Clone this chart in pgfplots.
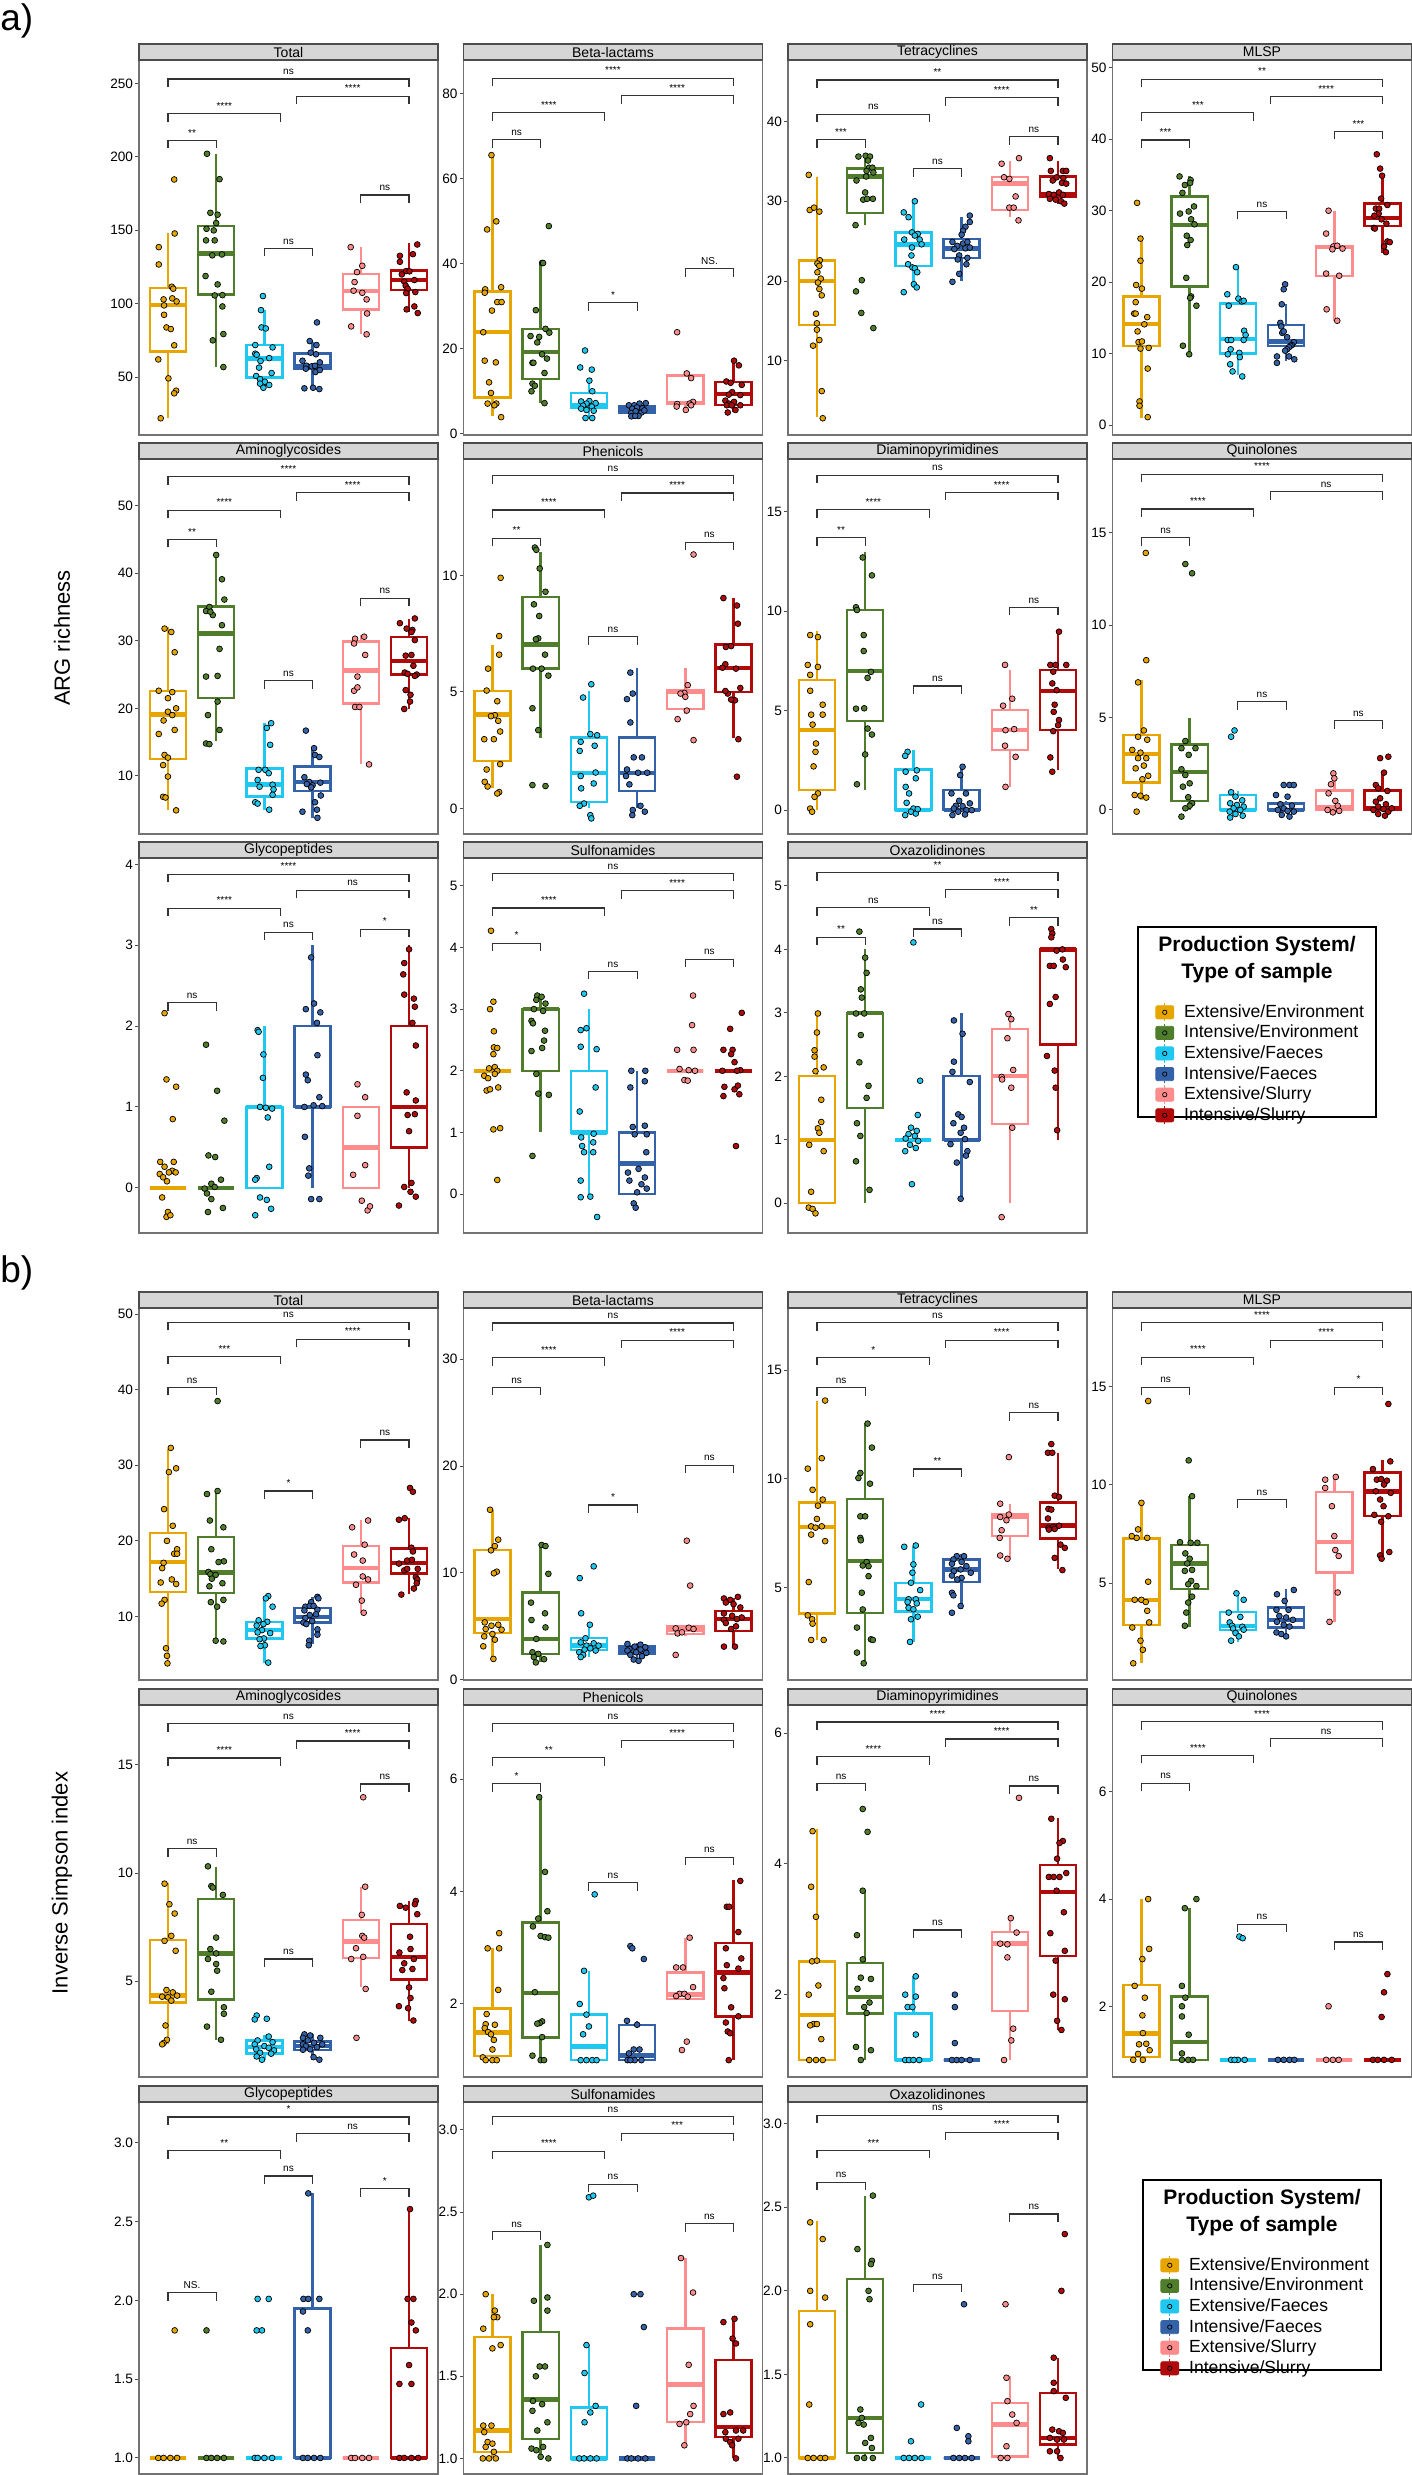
\documentclass[border=0pt]{standalone}
\usepackage{pgfplots}
\pgfplotsset{compat=1.18}
\usepgfplotslibrary{statistics}
\usepackage{fontspec}
\setmainfont{Liberation Sans}
\definecolor{cE}{HTML}{E7A500}
\definecolor{cI}{HTML}{4F7D2C}
\definecolor{cEF}{HTML}{1EC8F0}
\definecolor{cIF}{HTML}{3462A8}
\definecolor{cES}{HTML}{FF8C8C}
\definecolor{cIS}{HTML}{B00A0A}
\pgfplotsset{
 panel/.style={scale only axis, width=149.5pt, xmin=0.4, xmax=6.6, xtick=\empty, ytick pos=left,
  tick align=outside, major tick length=1.8pt, axis line style={draw=black!55, line width=0.8pt},
  every tick/.style={black!70, line width=0.5pt},
  yticklabel style={font=\fontsize{6.8}{7}\selectfont, inner sep=1pt, text=black},
  clip=false, anchor=north west, boxplot/every median/.style={line width=2.2pt}},
 legimg/.style={legend image code/.code={
  \draw[fill=#1, draw=#1, rounded corners=1pt] (0pt,-3.3pt) rectangle (9pt,3.3pt);
  \draw[#1, line width=0.6pt] (4.5pt,3.3pt) -- (4.5pt,4.6pt) (4.5pt,-3.3pt) -- (4.5pt,-4.6pt);
  \draw[black, line width=0.35pt] (4.5pt,0pt) circle (1.1pt);}}
}
\tikzset{brkst/.style={black!80, line width=0.6pt},
 brklbl/.style={anchor=base, yshift=2.2pt, inner sep=0pt, font=\fontsize{5}{5}\selectfont}}
\newcommand\panel[8]{%
\begin{axis}[panel, at={(#1*0.5pt,-#2*0.5pt)}, height=#3, ymin=#5, ymax=#6, ytick={#7}, yticklabels={#7}]
#8
\draw[fill=gray!32, draw=black!70, line width=0.6pt] (rel axis cs:0,1) rectangle ([yshift=8pt]rel axis cs:1,1);
\node[font=\fontsize{7}{8}\selectfont, inner sep=0pt] at ([yshift=4pt]rel axis cs:0.5,1) {#4};
\end{axis}}
\newcommand\bx[7]{\addplot[draw=#1, line width=1.2pt, fill=white, boxplot/draw direction=y, boxplot prepared={draw position=#2, lower whisker=#3, lower quartile=#4, median=#5, upper quartile=#6, upper whisker=#7, box extend=0.75, whisker extend=0}] coordinates {};}
\newcommand\pts[2]{\addplot[only marks, mark=*, mark size=1.45pt, mark options={fill=#1, draw=black, line width=0.35pt, solid}] coordinates {#2};}
\newcommand\brk[5]{\draw[brkst] ([yshift=-4pt]axis cs:#1,#4) -- (axis cs:#1,#4) -- (axis cs:#2,#4) -- ([yshift=-4pt]axis cs:#2,#4); \node[brklbl] at (axis cs:#3,#4) {#5};}
\newcommand\bra[2]{\brk{1}{2}{1.5}{#1}{#2}}
\newcommand\brb[2]{\brk{3}{4}{3.5}{#1}{#2}}
\newcommand\brc[2]{\brk{5}{6}{5.5}{#1}{#2}}
\newcommand\brd[2]{\brk{1}{3.33}{2.17}{#1}{#2}}
\newcommand\bre[2]{\brk{3.67}{6}{4.83}{#1}{#2}}
\newcommand\brf[2]{\brk{1}{6}{3.5}{#1}{#2}}
\newcommand\legendbox[2]{%
\begin{axis}[hide axis, scale only axis, width=119pt, height=95pt, at={(#1*0.5pt,-#2*0.5pt)}, anchor=north west,
 xmin=0, xmax=1, ymin=0, ymax=1, clip=false,
 legend style={at={(0.046,0.626)}, anchor=north west, draw=none, fill=none, font=\fontsize{8.8}{9}\selectfont,
  nodes={inner sep=0pt, text height=7pt, text depth=2pt}, row sep=0.5pt, column sep=5pt}, legend cell align=left]
\addlegendimage{legimg=cE}\addlegendentry{Extensive/Environment}
\addlegendimage{legimg=cI}\addlegendentry{Intensive/Environment}
\addlegendimage{legimg=cEF}\addlegendentry{Extensive/Faeces}
\addlegendimage{legimg=cIF}\addlegendentry{Intensive/Faeces}
\addlegendimage{legimg=cES}\addlegendentry{Extensive/Slurry}
\addlegendimage{legimg=cIS}\addlegendentry{Intensive/Slurry}
\node[font=\bfseries\fontsize{10.5}{12}\selectfont] at (axis cs:0.5,0.9) {Production System/};
\node[font=\bfseries\fontsize{10.5}{12}\selectfont] at (axis cs:0.5,0.758) {Type of sample};
\draw[line width=0.7pt] (rel axis cs:0,0) rectangle (rel axis cs:1,1);
\end{axis}}
\begin{document}
\begin{tikzpicture}
\useasboundingbox (0,0) rectangle (706pt,-1237.5pt);
\node[anchor=north west, inner sep=0pt, font=\fontsize{18.5}{20}\selectfont] at (0pt,-1.5pt) {a)};
\node[anchor=north west, inner sep=0pt, font=\fontsize{18.5}{20}\selectfont] at (0pt,-627.5pt) {b)};
\node[rotate=90, font=\fontsize{11}{13}\selectfont] at (31pt,-319pt) {ARG richness};
\node[rotate=90, font=\fontsize{11}{13}\selectfont] at (31pt,-941.5pt) {Inverse Simpson index};
% ---------------- a) row 1
\panel{139}{60}{187.5pt}{Total}{10.5}{266}{50,100,150,200,250}{
\bx{cE}{1}{22.3}{67.3}{99}{110.8}{147.8}
\bx{cI}{2}{57.0}{106.1}{134.2}{153.1}{201.9}
\bx{cEF}{3}{42.7}{49.6}{62.5}{71.8}{95.6}
\bx{cIF}{4}{42.7}{55.7}{57.7}{66.1}{74.1}
\bx{cES}{5}{79.1}{95.9}{108.6}{120.4}{138.8}
\bx{cIS}{6}{94.0}{109.3}{116.3}{122.6}{141.0}
\pts{cE}{(0.81,138.5)(0.81,126.7)(1.13,184.6)(1.14,147.8)(1.08,111.5)(1.11,110.2)(0.91,102.9)(0.92,98.8)(1.09,103.6)(1.18,101.5)(0.92,92.4)(0.97,83.8)(1.06,82.7)(1.13,71.6)(0.80,62.0)(1.01,49.1)(1.17,40.7)(1.13,38.9)(0.85,21.9)}
\pts{cI}{(1.81,202.1)(2.07,184.8)(1.88,161.9)(2.03,160.6)(2.0,154.9)(1.80,151.0)(1.95,149.9)(1.79,143.1)(1.97,143.1)(1.92,132.9)(2.12,133.5)(1.78,118.8)(2.03,113.1)(1.97,105.6)(2.13,105.8)(2.13,98.1)(1.93,75.0)(2.15,79.3)(2.15,56.8)}
\pts{cEF}{(2.97,105.2)(2.93,95.6)(2.94,83.8)(3.03,83.1)(2.81,71.8)(3.17,70.2)(2.81,65.9)(2.84,65.2)(3.10,62.9)(2.92,60.9)(2.89,56.4)(3.15,52.7)(2.83,50.7)(2.91,48.6)(3.01,46.8)(2.91,45.5)(3.10,44.6)(2.98,42.7)}
\pts{cIF}{(4.09,87.2)(3.94,74.5)(4.08,71.8)(3.96,66.6)(4.15,60.0)(3.79,61.1)(4.07,65.5)(3.87,57.7)(3.98,57.3)(4.05,57.7)(3.86,55.7)(4.06,53.4)(4.15,54.8)(3.83,42.3)(4.01,42.7)(4.14,41.8)}
\pts{cES}{(4.79,138.5)(5.03,125.8)(4.92,121.5)(4.87,114.7)(4.85,108.8)(5.03,107.4)(5.12,102.9)(5.13,93.3)(4.80,84.5)(5.12,79.1)}
\pts{cIS}{(6.17,140.3)(5.81,132.6)(6.08,133.7)(5.81,128.5)(5.94,122.2)(5.85,119.9)(6.01,122.0)(6.11,116.1)(5.90,115.0)(5.93,112.2)(5.97,110.2)(6.13,107.9)(5.94,107.2)(6.11,98.1)(5.95,96.1)(6.18,93.6)}
\bra{211.2}{**}\brb{137.6}{ns}\brc{174}{ns}\brd{229.3}{****}\bre{241.4}{****}\brf{253}{ns}
}
\panel{463.5}{60}{187.5pt}{Beta-lactams}{-0.3}{88}{0,20,40,60,80}{
\bx{cE}{1}{4.1}{8.5}{24.0}{33.5}{65.6}
\bx{cI}{2}{7.2}{12.9}{19.3}{24.6}{40.2}
\bx{cEF}{3}{3.6}{6.0}{6.7}{9.6}{12.7}
\bx{cIF}{4}{4.1}{4.9}{5.6}{6.4}{7.2}
\bx{cES}{5}{5.6}{7.0}{7.3}{13.7}{13.7}
\bx{cIS}{6}{5.0}{6.8}{9.3}{12.2}{17.2}
\pts{cE}{(0.98,65.6)(1.08,50.0)(0.89,48.1)(0.85,34.0)(0.84,33.2)(1.18,34.5)(1.10,31.0)(1.19,31.0)(0.99,29.0)(0.81,23.9)(0.84,17.2)(1.07,16.8)(0.93,12.1)(0.97,9.6)(0.90,7.1)(1.08,7.1)(1.04,6.7)(1.18,3.9)}
\pts{cI}{(2.17,48.9)(2.03,40.2)(2.05,40.2)(1.90,29.1)(2.10,24.7)(2.18,23.8)(1.79,23.0)(1.97,22.8)(1.93,21.5)(2.03,18.7)(1.83,16.7)(1.85,16.7)(2.13,17.7)(2.08,14.3)(1.83,11.8)(1.88,11.3)(1.81,10.0)(2.08,7.2)}
\pts{cEF}{(2.92,19.6)(2.82,15.6)(3.06,15.1)(3.01,12.5)(3.07,10.0)(2.84,7.6)(3.01,7.7)(2.95,7.1)(3.14,7.2)(2.88,6.6)(3.06,6.4)(2.84,5.9)(2.95,5.6)(3.10,5.4)(2.93,3.7)(3.07,3.7)}
\pts{cIF}{(3.83,6.7)(3.94,6.7)(4.05,7.1)(4.18,7.2)(3.90,5.9)(4.0,6.2)(4.11,6.0)(3.88,4.9)(3.97,5.3)(4.09,5.0)(4.03,4.2)(3.88,4.1)(3.96,4.2)(4.15,5.5)}
\pts{cES}{(4.83,23.9)(5.03,14.2)(5.12,13.1)(5.16,7.5)(5.09,7.1)(4.83,7.0)(4.82,6.4)(5.12,6.7)(5.01,5.6)}
\pts{cIS}{(6.01,17.2)(6.11,16.1)(5.85,12.3)(5.94,12.0)(6.17,11.5)(5.97,9.8)(5.90,9.2)(6.14,9.1)(5.83,7.8)(6.01,7.5)(5.90,7.1)(6.14,6.7)(5.86,6.7)(5.96,6.7)(6.04,5.6)(5.88,5.0)}
\bra{69.2}{ns}\brb{30.9}{*}\brc{38.9}{NS.}\brd{75.6}{****}\bre{79.6}{****}\brf{83.7}{****}
}
\panel{788}{60}{187.5pt}{Tetracyclines}{0.7}{47.7}{10,20,30,40}{
\bx{cE}{1}{3.0}{14.5}{20.0}{22.55}{33.05}
\bx{cI}{2}{27.0}{28.5}{33.1}{34.1}{35.9}
\bx{cEF}{3}{19.1}{21.9}{24.6}{26.1}{30.0}
\bx{cIF}{4}{20.0}{22.9}{24.1}{25.3}{28.0}
\bx{cES}{5}{28.0}{28.9}{32.2}{33.05}{35.0}
\bx{cIS}{6}{29.6}{30.5}{30.9}{33.1}{35.0}
\pts{cE}{(0.83,33.3)(0.85,28.9)(0.94,29.2)(1.05,28.7)(1.06,22.6)(1.01,22.2)(1.05,21.9)(1.01,21.1)(1.08,20.3)(1.02,19.8)(1.05,19.0)(1.10,18.2)(0.98,15.9)(1.0,14.7)(1.0,13.9)(1.05,12.6)(0.92,11.9)(1.10,6.2)(1.12,2.8)}
\pts{cI}{(1.86,35.6)(2.01,35.7)(2.10,35.6)(2.06,35.1)(2.08,34.2)(2.15,34.2)(2.03,33.8)(2.17,33.6)(2.02,33.1)(1.82,32.6)(2.0,31.1)(1.96,30.2)(2.04,30.3)(2.16,30.3)(1.80,27.0)(1.93,20.1)(1.81,18.7)(1.92,16.0)(2.17,14.1)}
\pts{cEF}{(3.03,30.0)(2.80,28.6)(2.90,28.0)(2.97,26.1)(3.09,25.9)(3.03,25.7)(2.81,25.2)(3.13,25.2)(3.17,24.6)(2.97,24.2)(2.96,23.2)(2.89,22.1)(2.98,21.7)(3.03,21.6)(3.08,21.1)(3.01,19.6)(3.07,19.2)(2.80,18.6)}
\pts{cIF}{(4.17,28.2)(4.17,27.4)(4.08,26.8)(4.03,26.3)(4.0,25.8)(3.81,24.9)(4.03,24.7)(4.12,24.9)(3.91,24.4)(3.85,24.0)(4.08,24.1)(4.17,24.2)(3.95,23.2)(4.12,22.9)(3.92,22.7)(4.10,22.1)(3.95,20.9)(3.81,19.9)}
\pts{cES}{(4.83,34.7)(5.19,35.4)(4.88,33.0)(4.99,32.8)(5.12,30.6)(4.99,29.2)(5.08,29.2)(5.18,27.6)}
\pts{cIS}{(5.83,35.4)(5.85,33.8)(6.10,33.8)(6.17,33.8)(5.97,33.0)(5.89,32.6)(6.11,32.9)(6.08,32.3)(6.17,32.2)(6.02,31.1)(5.81,30.9)(5.91,30.8)(6.10,30.8)(5.83,30.3)(5.95,30.2)(6.06,30.0)(6.13,29.7)}
\bra{37.7}{***}\brb{34.1}{ns}\brc{38.1}{ns}\brd{40.9}{ns}\bre{43.0}{****}\brf{45.2}{**}
}
\panel{1112.5}{60}{187.5pt}{MLSP}{-1.4}{51.1}{0,10,20,30,40,50}{
\bx{cE}{1}{1.0}{11.05}{14.1}{18.0}{26.1}
\bx{cI}{2}{9.9}{19.4}{28.0}{32.0}{34.9}
\bx{cEF}{3}{7.0}{10.0}{12.0}{17.0}{22.0}
\bx{cIF}{4}{8.9}{11.05}{11.7}{14.0}{17.0}
\bx{cES}{5}{14.6}{20.9}{24.9}{25.05}{29.9}
\bx{cIS}{6}{24.1}{27.9}{29.0}{31.0}{34.9}
\pts{cE}{(0.91,31.1)(0.98,26.1)(0.98,23.0)(0.89,19.6)(1.01,19.1)(0.88,17.2)(0.85,15.6)(0.88,15.6)(1.12,15.1)(1.06,14.1)(0.92,13.1)(0.94,11.6)(1.01,11.7)(0.98,10.7)(1.15,10.8)(1.13,7.9)(0.96,3.3)(0.96,2.7)(1.13,1.1)}
\pts{cI}{(1.79,34.8)(1.90,33.6)(2.02,34.3)(2.01,33.9)(1.85,32.5)(2.09,30.6)(1.80,29.6)(1.98,29.9)(2.03,28.8)(2.10,28.1)(1.94,26.5)(2.02,25.9)(1.95,25.2)(1.93,20.6)(2.03,18.0)(2.01,17.8)(2.14,16.7)(1.86,11.1)(1.99,9.9)}
\pts{cEF}{(2.96,22.1)(2.78,18.3)(3.01,17.7)(2.81,16.7)(3.08,17.3)(3.12,17.4)(3.13,13.2)(3.16,12.6)(3.12,11.9)(2.79,11.9)(2.86,11.9)(2.85,10.6)(3.03,10.1)(2.79,9.9)(3.04,9.5)(2.84,8.5)(2.89,7.5)(3.09,6.8)}
\pts{cIF}{(3.98,19.7)(3.95,19.0)(3.91,16.9)(3.88,14.3)(3.90,13.8)(3.92,12.9)(3.95,13.1)(4.02,12.3)(4.16,11.6)(4.12,11.2)(4.09,11.1)(4.06,10.9)(4.02,10.6)(3.98,10.4)(3.81,9.6)(4.06,9.6)(4.17,9.2)(3.81,8.7)}
\pts{cES}{(4.88,30.0)(4.83,26.8)(4.98,25.0)(5.06,25.1)(4.96,24.6)(5.17,24.7)(4.83,21.2)(5.10,20.9)(4.84,16.2)(5.06,14.6)}
\pts{cIS}{(5.88,37.9)(5.95,35.9)(5.99,34.9)(5.97,31.7)(6.10,30.8)(5.86,30.3)(5.93,30.3)(5.92,29.6)(5.83,29.3)(5.98,28.8)(6.08,28.2)(5.82,27.6)(5.84,27.5)(6.10,25.7)(6.15,25.6)(6.03,25.0)(6.07,24.2)}
\bra{39.9}{***}\brb{29.9}{ns}\brc{41.1}{***}\brd{43.7}{***}\bre{46.0}{****}\brf{48.4}{**}
}
% ---------------- a) row 2
\panel{139}{459}{187.5pt}{Aminoglycosides}{1.4}{56.9}{10,20,30,40,50}{
\bx{cE}{1}{5.0}{12.5}{19.1}{22.6}{32.0}
\bx{cI}{2}{15.2}{21.5}{31.1}{35.1}{42.9}
\bx{cEF}{3}{5.0}{6.95}{8.7}{11.1}{17.8}
\bx{cIF}{4}{3.7}{7.8}{9.1}{11.4}{14.1}
\bx{cES}{5}{11.7}{20.7}{25.6}{29.9}{30.9}
\bx{cIS}{6}{19.9}{25.0}{27.0}{30.6}{33.2}
\pts{cE}{(0.93,31.8)(1.07,31.3)(1.14,28.3)(0.81,22.6)(1.09,22.4)(1.0,21.5)(1.17,20.0)(1.0,19.5)(1.09,19.0)(0.91,18.2)(1.14,16.8)(0.81,16.2)(0.93,13.1)(1.0,12.7)(0.90,11.6)(1.0,9.9)(0.90,6.9)(0.95,6.8)(1.17,4.9)}
\pts{cI}{(2.0,42.7)(2.12,39.1)(2.17,36.1)(1.86,35.0)(1.79,34.4)(1.93,33.8)(1.88,34.3)(2.12,32.3)(2.07,28.8)(1.79,24.7)(2.03,24.8)(2.03,21.0)(1.83,19.0)(2.07,16.8)(1.79,14.8)(1.86,14.7)}
\pts{cEF}{(3.14,17.8)(3.05,17.1)(3.12,14.6)(2.88,10.9)(3.02,10.9)(3.09,10.4)(2.86,9.4)(3.17,8.7)(2.90,8.4)(3.19,8.0)(3.17,7.2)(2.81,6.1)(2.86,5.9)(3.10,5.0)}
\pts{cIF}{(3.86,16.7)(4.03,14.1)(4.05,13.1)(4.14,12.8)(3.83,9.8)(3.93,9.1)(4.16,9.0)(3.88,8.8)(4.0,8.6)(3.97,8.3)(4.17,7.1)(4.05,6.1)(3.79,4.7)(4.09,5.0)(4.10,3.8)}
\pts{cES}{(4.88,30.3)(5.07,30.6)(4.86,29.6)(5.09,27.9)(4.93,24.7)(4.86,22.6)(4.93,23.1)(4.88,20.2)(4.97,20.2)(5.17,11.7)}
\pts{cIS}{(6.12,33.3)(5.81,32.6)(5.95,31.8)(6.07,31.6)(6.05,31.3)(6.12,30.1)(6.05,27.9)(5.93,27.8)(6.09,26.3)(5.91,25.3)(5.97,25.1)(6.16,25.0)(6.12,24.8)(5.93,22.7)(6.03,22.0)(6.02,21.0)(5.90,19.9)}
\bra{45.0}{**}\brb{24.1}{ns}\brc{36.3}{ns}\brd{49.3}{****}\bre{51.9}{****}\brf{54.3}{****}
}
\panel{463.5}{459}{187.5pt}{Phenicols}{-1.1}{15.0}{0,5,10}{
\bx{cE}{1}{0.86}{2.03}{4.03}{5.03}{7.03}
\bx{cI}{2}{3.04}{6.0}{7.04}{9.07}{11.0}
\bx{cEF}{3}{0}{0.27}{1.53}{3.04}{5.03}
\bx{cIF}{4}{0}{0.74}{1.53}{3.04}{6.03}
\bx{cES}{5}{4.07}{4.26}{5.0}{5.07}{6.03}
\bx{cIS}{6}{3.04}{5.0}{6.04}{7.04}{9.03}
\pts{cE}{(1.17,9.9)(1.14,7.4)(1.14,6.6)(0.91,6.0)(0.88,5.06)(1.10,4.6)(1.05,4.0)(0.97,3.96)(1.12,3.76)(1.16,3.3)(0.83,2.97)(1.03,2.97)(1.16,1.9)(0.88,1.67)(0.84,1.14)(0.90,0.94)(1.14,0.7)(1.10,0.64)}
\pts{cI}{(1.88,11.2)(1.91,11.1)(1.98,10.3)(2.10,9.3)(1.86,8.76)(1.97,8.26)(1.95,7.3)(1.90,7.26)(2.09,6.6)(1.84,6.0)(2.02,6.0)(2.16,5.7)(1.83,4.3)(1.95,3.36)(1.83,1.0)(2.10,0.96)}
\pts{cEF}{(3.05,5.33)(2.88,4.76)(3.03,3.19)(3.17,3.14)(2.83,2.86)(3.12,2.69)(2.81,2.47)(3.14,1.54)(2.83,1.39)(3.10,1.07)(2.84,0.86)(2.90,0.21)(2.81,0.11)(3.03,-0.29)(3.05,-0.43)}
\pts{cIF}{(3.86,5.83)(3.91,4.93)(3.79,4.69)(3.86,3.69)(3.93,2.19)(4.10,2.19)(3.79,1.67)(4.02,1.53)(4.21,1.53)(3.77,1.39)(3.84,1.03)(4.07,0.11)(3.91,-0.07)(4.16,-0.14)(3.90,-0.29)}
\pts{cES}{(5.17,10.9)(5.05,5.29)(4.98,4.96)(4.90,4.93)(5.0,4.79)(5.03,4.2)(4.84,3.83)(5.17,2.93)}
\pts{cIS}{(5.79,9.03)(6.07,8.71)(6.09,7.93)(5.84,6.93)(5.95,6.97)(5.83,6.19)(5.77,6.04)(6.05,6.0)(6.14,5.17)(5.88,4.93)(5.83,5.04)(6.03,4.64)(5.95,4.67)(6.10,2.97)(6.07,1.36)}
\bra{11.6}{**}\brb{7.37}{ns}\brc{11.43}{ns}\brd{12.81}{****}\bre{13.54}{****}\brf{14.29}{ns}
}
\panel{788}{459}{187.5pt}{Diaminopyrimidines}{-1.2}{17.65}{0,5,10,15}{
\bx{cE}{1}{0}{1.0}{4.02}{6.54}{9.0}
\bx{cI}{2}{1.0}{4.49}{7.0}{10.06}{13.0}
\bx{cEF}{3}{0}{0}{0}{2.05}{3.03}
\bx{cIF}{4}{0}{0}{0}{1.0}{2.18}
\bx{cES}{5}{1.17}{3.02}{4.02}{5.03}{7.04}
\bx{cIS}{6}{2.0}{4.02}{6.0}{7.04}{8.97}
\pts{cE}{(0.86,8.8)(1.02,8.7)(0.81,7.3)(1.02,7.2)(0.86,6.8)(0.86,6.0)(1.12,5.3)(0.88,4.8)(1.12,4.8)(0.91,4.3)(0.98,3.35)(0.97,2.93)(0.93,2.2)(1.02,0.84)(0.95,0.67)(0.86,0.08)(0.90,-0.08)}
\pts{cI}{(1.95,12.7)(2.14,11.8)(1.81,10.2)(1.83,10.06)(1.97,8.8)(1.97,8.0)(2.12,6.95)(2.05,6.65)(1.81,5.1)(1.98,5.12)(2.05,4.1)(2.14,3.8)(2.0,2.8)(1.83,1.3)}
\pts{cEF}{(2.88,2.93)(2.83,2.73)(2.84,1.93)(3.07,2.0)(3.05,1.6)(2.84,1.17)(2.91,0.84)(2.86,0.37)(3.0,0.08)(2.95,-0.08)(3.05,-0.17)(2.83,-0.25)(3.09,0.05)}
\pts{cIF}{(4.02,2.18)(3.97,1.76)(3.79,0.84)(4.09,0.84)(3.95,0.47)(4.17,0.34)(3.88,0.22)(4.02,0.2)(3.84,0.08)(4.10,0.0)(4.21,0.0)(3.93,-0.08)(4.07,-0.22)(3.81,-0.25)}
\pts{cES}{(4.90,7.3)(5.05,5.6)(4.86,5.25)(4.91,4.02)(5.09,4.07)(4.90,3.24)(5.12,2.68)(4.91,1.17)}
\pts{cIS}{(6.02,8.97)(5.84,7.3)(5.95,7.3)(6.17,7.3)(5.90,6.96)(5.88,6.37)(5.97,6.03)(5.93,5.3)(5.91,4.94)(6.02,4.53)(6.0,4.27)(5.90,3.97)(5.84,2.65)(5.88,1.93)}
\bra{13.7}{**}\brb{6.24}{ns}\brc{10.19}{ns}\brd{15.1}{****}\bre{15.97}{****}\brf{16.84}{ns}
}
\panel{1112.5}{459}{187.5pt}{Quinolones}{-1.3}{18.98}{0,5,10,15}{
\bx{cE}{1}{0.54}{1.48}{3.03}{4.06}{7.03}
\bx{cI}{2}{0}{0.49}{2.04}{3.55}{5.0}
\bx{cEF}{3}{0}{0}{0}{0.81}{1.0}
\bx{cIF}{4}{0}{0}{0}{0.36}{0.5}
\bx{cES}{5}{0}{0}{0.13}{1.05}{1.98}
\bx{cIS}{6}{0}{0}{0.09}{1.05}{2.02}
\pts{cE}{(1.09,13.9)(1.10,8.1)(0.93,6.9)(1.05,4.3)(0.93,3.96)(1.12,3.8)(0.81,3.25)(0.98,3.1)(1.10,2.8)(0.93,2.8)(1.05,2.4)(0.88,2.25)(1.14,1.85)(1.02,1.66)(0.86,0.81)(0.98,0.77)(1.10,0.67)(0.90,-0.09)}
\pts{cI}{(1.91,13.3)(2.05,12.8)(1.91,3.73)(1.83,3.34)(1.98,2.98)(2.12,3.34)(1.83,2.2)(1.91,1.89)(2.0,1.44)(1.86,1.26)(1.97,0.69)(2.05,0.36)(2.0,0.23)(1.91,0.09)(1.83,-0.36)}
\pts{cEF}{(2.93,4.3)(2.86,3.96)(2.86,0.96)(2.95,0.72)(3.09,0.52)(2.84,0.36)(2.98,0.27)(3.12,0.18)(2.91,0.09)(3.05,0.0)(2.83,-0.09)(2.95,-0.22)(3.10,-0.31)(2.84,-0.41)}
\pts{cIF}{(3.95,1.35)(4.07,1.35)(4.16,1.35)(3.79,0.81)(4.03,0.72)(3.88,0.31)(4.12,0.23)(3.95,0.09)(3.83,0.0)(4.03,-0.05)(4.16,-0.09)(3.91,-0.27)(4.07,-0.36)}
\pts{cES}{(4.98,1.98)(5.0,1.71)(4.93,1.39)(4.88,0.9)(5.02,0.49)(5.07,0.23)(4.86,0.0)(4.97,-0.13)(5.10,-0.05)}
\pts{cIS}{(6.12,2.88)(5.95,2.8)(6.03,2.02)(5.86,1.35)(5.91,1.17)(6.10,1.03)(5.95,0.63)(5.86,0.45)(6.07,0.31)(5.91,0.18)(6.02,0.05)(5.81,0.0)(6.12,-0.09)(5.91,-0.22)(6.05,-0.31)(6.19,0.09)}
\bra{14.73}{ns}\brb{5.86}{ns}\brc{4.82}{ns}\brd{16.28}{****}\bre{17.22}{ns}\brf{18.15}{****}
}
% ---------------- a) row 3
\panel{139}{858}{187.5pt}{Glycopeptides}{-0.56}{4.08}{0,1,2,3,4}{
\bx{cE}{1}{0}{0}{0}{0}{0}
\bx{cI}{2}{0}{0}{0}{0}{0}
\bx{cEF}{3}{0}{0}{1}{1}{2}
\bx{cIF}{4}{0}{1}{1}{2}{3}
\bx{cES}{5}{0}{0}{0.5}{1}{1}
\bx{cIS}{6}{0}{0.5}{1}{2}{3}
\pts{cE}{(0.93,2.16)(0.97,1.34)(1.17,1.25)(1.10,0.85)(0.84,0.32)(1.12,0.32)(0.93,0.26)(1.09,0.21)(0.83,0.17)(1.02,0.19)(1.16,0.19)(0.90,0.13)(0.98,0.08)(0.88,-0.12)(1.0,-0.30)(0.97,-0.36)(1.05,-0.34)}
\pts{cI}{(1.79,1.77)(2.02,1.2)(2.17,0.83)(1.84,0.40)(1.98,0.38)(1.90,0.05)(1.76,-0.01)(2.10,0.10)(1.81,-0.07)(1.90,-0.14)(2.14,-0.25)(1.83,-0.30)(1.97,0.01)}
\pts{cEF}{(2.86,1.95)(2.88,1.93)(2.98,1.65)(2.97,1.36)(2.91,1.0)(3.03,0.99)(3.16,0.98)(3.07,0.87)(3.10,0.26)(2.84,0.12)(2.81,0.10)(2.91,-0.12)(3.05,-0.15)(3.14,-0.26)(2.81,-0.34)}
\pts{cIF}{(3.97,2.85)(3.86,2.21)(4.03,2.28)(4.16,2.17)(4.09,2.04)(4.10,1.64)(3.86,1.40)(3.90,1.33)(4.14,1.12)(4.02,1.02)(3.83,1.0)(4.2,1.01)(3.84,0.63)(3.93,0.24)(3.91,0.15)(3.97,-0.14)(4.14,-0.14)}
\pts{cES}{(4.93,1.28)(5.09,1.12)(4.93,0.89)(5.09,0.28)(4.84,0.16)(5.02,-0.16)(5.14,-0.28)(5.19,-0.23)}
\pts{cIS}{(6.0,2.95)(5.90,2.78)(5.88,2.64)(5.90,2.39)(6.10,2.34)(6.12,2.24)(6.07,2.04)(6.14,1.76)(5.95,1.18)(6.14,1.08)(5.97,0.90)(6.12,0.91)(6.0,0.70)(6.05,0.06)(5.90,0.01)(5.79,-0.22)(6.03,-0.05)(6.14,-0.11)}
\bra{2.29}{ns}\brb{3.16}{ns}\brc{3.20}{*}\brd{3.46}{****}\bre{3.68}{ns}\brf{3.88}{****}
}
\panel{463.5}{858}{187.5pt}{Sulfonamides}{-0.63}{5.45}{0,1,2,3,4,5}{
\bx{cE}{1}{2}{2}{2}{2}{2}
\bx{cI}{2}{1.0}{2.0}{3.0}{3.0}{3.2}
\bx{cEF}{3}{0}{1.0}{1.0}{2.0}{3.0}
\bx{cIF}{4}{0}{0}{0.5}{1.0}{2.0}
\bx{cES}{5}{2}{2}{2}{2}{2}
\bx{cIS}{6}{2}{2}{2}{2}{2}
\pts{cE}{(0.97,4.27)(1.02,3.12)(0.95,3.0)(1.03,2.64)(1.03,2.38)(1.10,2.37)(1.02,2.27)(1.05,2.06)(0.93,2.04)(1.10,2.0)(0.83,1.92)(0.91,1.88)(1.05,1.95)(1.12,1.73)(0.88,1.68)(0.95,1.70)(1.02,1.05)(1.16,1.07)(1.10,0.23)}
\pts{cI}{(1.93,3.22)(2.02,3.2)(1.91,3.15)(2.10,3.09)(1.86,3.0)(2.05,2.97)(1.81,2.81)(1.84,2.77)(2.09,2.65)(2.07,2.49)(1.81,2.32)(2.03,2.37)(1.91,1.95)(1.95,1.63)(2.17,1.61)(1.83,0.62)}
\pts{cEF}{(2.90,3.25)(2.83,2.66)(2.95,2.69)(2.83,2.39)(3.16,2.35)(3.14,1.73)(2.81,1.34)(3.10,0.98)(2.84,0.92)(3.09,0.84)(2.86,0.78)(2.90,0.68)(3.09,0.68)(2.83,0.22)(3.03,-0.04)(2.83,-0.05)(3.17,-0.37)}
\pts{cIF}{(3.88,2.0)(4.17,2.0)(3.86,1.73)(4.16,1.83)(3.91,1.09)(4.16,1.11)(3.95,0.97)(4.2,0.97)(4.19,0.68)(4.03,0.41)(3.81,0.35)(4.16,0.27)(3.84,0.22)(4.09,0.16)(4.2,0.09)(4.0,0.03)(3.93,-0.15)(3.97,-0.22)}
\pts{cES}{(5.16,3.22)(5.14,2.74)(4.83,2.34)(5.17,2.34)(4.88,2.03)(5.07,2.01)(5.2,2.0)(4.98,1.85)(5.05,1.84)}
\pts{cIS}{(6.17,2.94)(5.93,2.68)(5.98,2.34)(5.79,2.34)(5.95,2.27)(6.02,2.14)(6.14,2.01)(5.77,2.0)(6.07,2.0)(5.81,1.74)(6.02,1.70)(6.09,1.76)(5.79,1.59)(6.12,1.62)(6.05,0.78)}
\bra{4.07}{*}\brb{3.61}{ns}\brc{3.81}{ns}\brd{4.64}{****}\bre{4.92}{****}\brf{5.2}{ns}
}
\panel{788}{858}{187.5pt}{Oxazolidinones}{-0.47}{5.44}{0,1,2,3,4,5}{
\bx{cE}{1}{0}{0}{1.0}{2.0}{3.0}
\bx{cI}{2}{0}{1.5}{3.0}{3.0}{4.0}
\bx{cEF}{3}{1}{1}{1}{1}{1}
\bx{cIF}{4}{0.06}{1.0}{1.0}{2.0}{3.0}
\bx{cES}{5}{0}{1.25}{2.0}{2.75}{3.0}
\bx{cIS}{6}{1.0}{2.5}{4.0}{4.0}{4.0}
\pts{cE}{(1.02,2.99)(1.0,2.69)(0.95,2.41)(0.95,2.31)(1.14,2.14)(0.97,2.08)(1.09,1.63)(1.09,1.28)(1.02,1.18)(1.05,1.11)(0.84,0.92)(1.14,0.82)(0.88,0.18)(0.83,-0.07)(0.91,-0.09)(0.97,-0.16)}
\pts{cI}{(1.88,4.28)(2.0,3.87)(2.03,3.63)(1.91,3.37)(1.93,3.24)(1.98,2.99)(1.81,2.99)(1.91,2.65)(1.88,2.22)(2.07,1.85)(2.03,1.66)(1.83,1.26)(1.90,1.06)(1.81,0.66)(2.09,0.21)}
\pts{cEF}{(3.0,4.11)(3.14,1.93)(3.09,1.39)(2.95,1.19)(3.07,1.14)(2.90,1.09)(3.03,1.06)(2.84,1.02)(3.10,0.98)(2.93,0.92)(3.05,0.87)(2.83,0.82)(2.97,0.30)}
\pts{cIF}{(3.84,2.88)(4.02,2.67)(3.84,2.23)(3.81,2.07)(4.17,1.91)(3.93,1.40)(4.0,1.36)(3.83,1.26)(4.05,1.19)(3.98,1.11)(4.07,1.01)(3.77,0.93)(4.12,0.82)(4.09,0.75)(3.90,0.64)(3.98,0.07)}
\pts{cES}{(4.97,2.98)(5.03,2.9)(4.95,2.6)(5.07,2.1)(4.83,1.99)(4.84,1.95)(5.03,1.82)(5.05,1.19)(4.83,-0.22)}
\pts{cIS}{(5.86,4.32)(5.88,4.25)(5.86,4.19)(6.09,4.0)(5.97,3.98)(6.10,3.84)(5.83,3.74)(5.91,3.74)(6.16,3.72)(5.95,3.25)(5.83,3.14)(5.77,2.32)(5.93,2.09)(5.95,1.82)(5.98,1.15)}
\bra{4.19}{**}\brb{4.32}{ns}\brc{4.50}{**}\brd{4.66}{ns}\bre{4.94}{****}\brf{5.21}{**}
}
\legendbox{1138}{927}
% ---------------- b) row 1
\panel{139}{1308}{186pt}{Total}{1.6}{50.8}{10,20,30,40,50}{
\bx{cE}{1}{3.8}{13.26}{17.2}{21.06}{32.2}
\bx{cI}{2}{6.7}{13.1}{15.8}{20.5}{26.6}
\bx{cEF}{3}{3.8}{7.1}{8.2}{9.3}{12.3}
\bx{cIF}{4}{6.3}{9.2}{9.9}{11.1}{12.6}
\bx{cES}{5}{10.5}{14.5}{16.4}{19.3}{22.8}
\bx{cIS}{6}{13.0}{15.7}{17.1}{19.0}{23.0}
\pts{cE}{(1.06,32.3)(1.02,29.1)(1.17,29.6)(0.92,24.2)(1.10,22.0)(0.98,20.0)(1.19,18.9)(1.13,18.3)(1.19,18.3)(0.91,17.1)(0.88,16.4)(1.08,14.9)(0.85,14.5)(1.17,14.3)(0.93,12.2)(0.87,11.7)(0.96,5.8)(0.98,4.8)(0.99,3.8)}
\pts{cI}{(2.03,38.5)(1.81,26.2)(2.03,26.6)(1.87,22.7)(2.15,21.8)(1.90,18.9)(2.16,17.3)(2.05,17.2)(1.84,15.9)(1.88,15.6)(1.99,15.5)(1.91,15.0)(2.13,14.4)(1.86,14.0)(2.15,12.2)(1.89,11.9)(2.02,11.3)(1.99,6.8)(2.15,6.7)}
\pts{cEF}{(3.08,12.7)(3.03,12.4)(3.17,11.3)(2.88,9.5)(3.06,9.3)(2.98,9.0)(2.84,8.8)(2.95,8.2)(3.12,7.8)(2.86,7.9)(2.99,7.1)(2.90,7.0)(3.01,6.2)(2.92,6.1)(3.08,3.9)}
\pts{cIF}{(4.10,12.6)(4.12,12.4)(3.97,11.9)(3.85,11.3)(3.94,11.4)(4.02,11.4)(4.10,10.9)(3.83,10.8)(3.94,10.2)(4.07,10.3)(3.85,9.8)(3.99,9.4)(3.81,9.2)(3.87,9.0)(4.10,8.3)(4.10,7.6)(3.93,6.8)(3.92,6.2)}
\pts{cES}{(5.15,22.7)(4.82,21.8)(5.08,19.5)(4.86,18.2)(5.04,17.4)(5.04,15.3)(5.15,14.9)(4.90,14.2)(5.02,12.1)(5.06,10.5)}
\pts{cIS}{(6.02,27.0)(6.08,26.5)(5.79,22.8)(5.91,23.0)(6.05,19.1)(6.08,18.6)(5.79,17.0)(5.96,17.4)(6.06,17.5)(5.90,16.1)(5.96,16.3)(6.18,16.3)(6.14,15.2)(6.17,14.9)(6.16,14.4)(6.10,13.7)(5.84,12.9)}
\bra{40.3}{ns}\brb{26.6}{*}\brc{33.35}{ns}\brd{44.4}{***}\bre{46.65}{****}\brf{48.9}{ns}
}
\panel{463.5}{1308}{186pt}{Beta-lactams}{-0.05}{34.8}{0,10,20,30}{
\bx{cE}{1}{1.93}{4.35}{5.66}{12.13}{15.9}
\bx{cI}{2}{1.6}{2.4}{3.8}{8.15}{12.5}
\bx{cEF}{3}{2.1}{2.77}{3.17}{3.89}{5.19}
\bx{cIF}{4}{1.71}{2.4}{2.7}{3.08}{3.39}
\bx{cES}{5}{4.1}{4.26}{4.67}{4.95}{5.04}
\bx{cIS}{6}{3.08}{4.57}{5.66}{6.44}{7.68}
\pts{cE}{(0.95,15.9)(1.12,13.1)(1.05,12.5)(0.97,12.1)(1.09,10.1)(1.03,9.95)(0.84,5.35)(1.12,5.13)(0.98,5.04)(0.86,4.73)(1.19,4.67)(1.0,4.26)(0.83,4.04)(1.05,3.73)(0.81,3.11)(1.02,1.93)}
\pts{cI}{(2.02,12.6)(2.10,12.5)(2.16,9.9)(1.8,7.2)(2.09,6.2)(1.81,5.57)(2.10,4.88)(1.91,3.8)(1.83,2.55)(1.95,2.4)(1.86,2.1)(1.90,1.6)(2.07,1.9)}
\pts{cEF}{(3.10,10.6)(2.81,9.5)(2.84,6.2)(3.02,5.13)(2.93,3.86)(2.83,3.48)(3.10,3.39)(2.95,3.17)(3.2,3.17)(3.03,2.92)(2.91,2.8)(3.14,2.71)(2.8,2.55)(2.88,2.3)(2.83,2.1)}
\pts{cIF}{(3.8,3.33)(4.07,3.26)(3.95,3.08)(4.17,3.02)(3.84,2.86)(4.07,2.8)(3.8,2.71)(3.98,2.55)(4.19,2.49)(3.86,2.3)(4.10,2.18)(3.93,1.87)(4.03,1.75)}
\pts{cES}{(5.03,13.0)(5.10,8.8)(5.07,4.85)(4.8,4.79)(5.17,4.73)(4.84,4.32)(4.93,4.42)(4.8,2.3)}
\pts{cIS}{(6.09,7.74)(5.8,7.59)(5.93,7.46)(5.84,7.21)(6.0,7.06)(6.14,6.75)(5.8,6.19)(5.97,5.97)(6.17,5.81)(6.07,5.66)(5.8,5.6)(5.84,5.29)(6.05,4.98)(5.95,4.73)(5.8,3.08)(6.03,3.08)}
\bra{27.36}{ns}\brb{16.35}{*}\brc{20.08}{ns}\brd{30.15}{****}\bre{31.77}{****}\brf{33.4}{ns}
}
\panel{788}{1308}{186pt}{Tetracyclines}{0.76}{17.85}{5,10,15}{
\bx{cE}{1}{2.6}{3.82}{7.78}{8.92}{13.6}
\bx{cI}{2}{1.49}{3.85}{6.22}{9.08}{12.56}
\bx{cEF}{3}{2.51}{3.9}{4.47}{5.23}{6.9}
\bx{cIF}{4}{4.0}{5.26}{5.84}{6.3}{6.53}
\bx{cES}{5}{6.3}{7.37}{8.25}{8.39}{8.85}
\bx{cIS}{6}{5.84}{7.26}{7.85}{8.92}{11.18}
\pts{cE}{(1.17,13.6)(1.10,10.95)(0.81,10.47)(0.91,9.5)(1.12,9.05)(1.02,8.77)(1.0,8.16)(1.10,7.82)(0.88,7.82)(0.97,7.76)(0.88,7.44)(1.17,7.14)(0.83,5.26)(0.81,3.73)(0.90,3.55)(0.91,3.35)(0.88,2.6)(1.14,2.6)}
\pts{cI}{(2.05,12.54)(2.14,11.44)(1.90,10.27)(1.86,10.04)(2.10,9.78)(1.90,8.28)(2.0,8.28)(1.90,7.29)(1.91,7.18)(2.03,6.18)(1.95,6.02)(2.07,5.99)(2.07,5.53)(1.93,4.77)(1.95,4.0)(1.83,3.17)(2.12,2.63)(2.16,2.6)(1.83,2.02)(1.97,1.53)}
\pts{cEF}{(2.81,6.88)(3.05,6.94)(3.0,6.07)(2.98,5.69)(2.95,5.23)(3.14,4.89)(2.90,4.47)(3.05,4.47)(2.88,4.34)(3.07,4.28)(2.90,4.08)(3.0,4.01)(3.09,3.67)(2.95,3.55)(2.93,2.51)}
\pts{cIF}{(3.90,6.45)(4.05,6.45)(3.83,6.30)(4.0,6.19)(3.8,6.1)(4.10,5.99)(3.98,5.84)(3.84,5.76)(4.19,5.69)(3.8,5.56)(4.0,5.45)(3.91,5.38)(3.8,4.77)(3.83,4.65)(3.98,4.16)(3.8,3.85)}
\pts{cES}{(4.98,11.0)(4.8,8.86)(4.98,8.36)(4.8,8.25)(4.93,8.1)(4.83,7.64)(4.79,7.29)(4.8,6.48)(4.95,6.33)}
\pts{cIS}{(5.86,11.6)(5.79,11.2)(5.88,11.2)(5.93,9.23)(6.02,9.17)(5.8,8.62)(5.86,8.59)(5.79,8.18)(5.90,7.79)(5.8,7.75)(6.02,7.85)(5.81,7.67)(5.93,7.7)(6.05,6.98)(6.14,6.83)(5.93,6.37)(6.09,5.81)}
\bra{14.19}{ns}\brb{10.45}{**}\brc{13.05}{ns}\brd{15.58}{*}\bre{16.37}{****}\brf{17.18}{ns}
}
\panel{1112.5}{1308}{186pt}{MLSP}{0.08}{19.0}{5,10,15}{
\bx{cE}{1}{0.93}{2.89}{4.16}{7.28}{9.09}
\bx{cI}{2}{2.79}{4.7}{6.01}{6.94}{9.43}
\bx{cEF}{3}{2.0}{2.62}{2.84}{3.55}{4.49}
\bx{cIF}{4}{2.28}{2.75}{3.14}{3.77}{4.7}
\bx{cES}{5}{3.01}{5.54}{7.11}{9.63}{10.39}
\bx{cIS}{6}{6.22}{8.41}{9.66}{10.64}{11.28}
\pts{cE}{(1.14,14.27)(1.0,9.09)(0.93,7.74)(1.12,7.31)(0.90,7.31)(0.8,7.4)(1.14,5.08)(0.86,4.16)(1.0,4.16)(1.09,4.05)(1.12,3.6)(1.16,3.01)(0.81,2.75)(0.98,2.08)(1.03,1.62)(0.83,0.93)}
\pts{cI}{(1.98,11.25)(2.05,9.43)(1.8,7.09)(2.02,7.06)(2.16,7.06)(1.91,6.52)(2.0,6.25)(1.95,6.01)(2.05,5.68)(1.90,5.63)(2.03,5.12)(1.97,4.95)(2.14,4.86)(2.05,4.32)(1.97,4.02)(1.93,3.51)(1.90,2.84)}
\pts{cEF}{(2.97,4.49)(3.12,4.16)(2.81,3.51)(3.05,3.29)(2.83,3.01)(2.88,2.84)(3.09,2.79)(2.90,2.7)(3.12,2.64)(2.95,2.47)(3.02,2.30)(2.86,2.08)}
\pts{cIF}{(4.16,4.66)(3.81,4.44)(3.97,4.1)(3.8,3.65)(4.05,3.65)(3.86,3.34)(4.0,3.26)(4.14,3.14)(3.81,3.04)(3.95,2.89)(4.07,2.8)(3.8,2.5)(3.90,2.42)(4.0,2.30)}
\pts{cES}{(5.03,10.41)(4.81,10.27)(4.81,9.85)(4.95,8.92)(5.0,7.4)(5.02,6.69)(5.09,6.39)(5.07,4.53)(4.90,3.04)}
\pts{cIS}{(6.12,14.12)(6.16,11.2)(5.8,10.81)(5.88,10.27)(5.97,10.3)(6.09,10.22)(6.03,10.02)(5.86,9.68)(6.17,9.6)(5.95,9.26)(6.02,8.92)(5.83,8.48)(6.12,8.41)(5.97,8.13)(6.14,6.59)(5.95,6.42)(5.98,6.25)}
\bra{14.97}{ns}\brb{9.26}{ns}\brc{14.97}{*}\brd{16.49}{****}\bre{17.36}{****}\brf{18.26}{****}
}
% ---------------- b) row 2
\panel{139}{1705}{186pt}{Aminoglycosides}{0.58}{17.76}{5,10,15}{
\bx{cE}{1}{2.09}{4.03}{4.34}{6.92}{9.52}
\bx{cI}{2}{2.3}{4.16}{6.29}{8.79}{10.28}
\bx{cEF}{3}{1.35}{1.66}{1.96}{2.27}{2.5}
\bx{cIF}{4}{1.35}{1.84}{2.01}{2.22}{2.58}
\bx{cES}{5}{4.72}{6.07}{6.84}{7.84}{9.37}
\bx{cIS}{6}{3.19}{5.08}{6.13}{7.64}{8.71}
\pts{cE}{(0.93,9.51)(1.03,8.56)(1.14,8.13)(1.07,7.1)(0.93,6.87)(1.16,6.41)(0.97,4.6)(1.10,4.49)(0.88,4.29)(1.0,4.26)(1.19,4.34)(1.07,4.11)(0.95,2.96)(0.98,2.3)(0.91,2.15)(0.88,2.09)}
\pts{cI}{(1.83,10.31)(1.90,9.4)(1.93,9.33)(2.14,8.99)(2.0,7.02)(1.88,6.49)(2.0,6.29)(1.83,6.03)(2.0,5.8)(2.02,5.49)(1.90,4.52)(2.16,3.8)(2.16,3.5)(1.81,2.91)(2.10,2.3)}
\pts{cEF}{(2.84,3.42)(3.05,3.27)(2.8,3.24)(3.09,2.45)(2.86,2.27)(3.17,2.19)(2.8,2.09)(3.0,2.01)(3.09,1.93)(2.83,1.86)(3.2,1.81)(2.91,1.70)(3.14,1.66)(2.84,1.53)(2.95,1.38)}
\pts{cIF}{(3.83,2.55)(3.95,2.5)(3.8,2.39)(4.16,2.39)(3.90,2.27)(4.03,2.16)(3.8,2.09)(4.2,2.09)(3.86,2.0)(4.09,1.96)(3.95,1.86)(3.8,1.84)(4.02,1.5)(4.14,1.38)}
\pts{cES}{(5.05,13.5)(5.09,9.37)(5.02,8.07)(5.03,7.1)(5.07,7.02)(4.9,6.53)(4.8,6.03)(5.05,6.13)(5.10,4.65)(4.91,2.39)}
\pts{cIS}{(6.14,8.71)(6.12,8.56)(5.81,8.48)(5.93,8.4)(6.17,8.1)(6.02,7.06)(6.03,6.49)(5.8,6.33)(6.10,6.03)(5.90,5.83)(6.07,5.57)(5.86,5.52)(6.0,4.72)(6.03,4.23)(5.79,3.85)(5.98,3.76)(6.09,3.19)}
\bra{11.13}{ns}\brb{6.03}{ns}\brc{14.11}{ns}\brd{15.31}{****}\bre{16.1}{****}\brf{16.89}{ns}
}
\panel{463.5}{1705}{186pt}{Phenicols}{0.70}{7.32}{2,4,6}{
\bx{cE}{1}{1.0}{1.07}{1.49}{1.92}{3.0}
\bx{cI}{2}{1.0}{1.4}{2.2}{3.45}{5.68}
\bx{cEF}{3}{1.0}{1.0}{1.24}{1.81}{2.59}
\bx{cIF}{4}{1.0}{1.0}{1.08}{1.63}{1.70}
\bx{cES}{5}{2.09}{2.09}{2.17}{2.56}{3.18}
\bx{cIS}{6}{1.0}{1.78}{2.56}{3.08}{4.2}
\pts{cE}{(1.14,3.26)(0.90,2.99)(1.14,2.99)(1.12,2.25)(0.88,1.82)(0.86,1.64)(1.05,1.63)(0.84,1.57)(0.91,1.50)(0.97,1.46)(1.03,1.36)(1.0,1.19)(0.8,1.05)(0.86,1.0)(1.0,1.0)(1.09,1.0)}
\pts{cI}{(1.97,5.68)(2.09,4.35)(2.14,3.65)(1.95,3.52)(1.84,3.38)(2.0,3.21)(2.09,3.19)(2.16,3.18)(1.88,2.21)(2.03,1.69)(1.98,1.66)(1.93,1.65)(2.03,1.41)(1.83,1.08)(2.0,1.0)(2.07,1.0)}
\pts{cEF}{(3.12,3.95)(2.90,2.59)(2.81,2.0)(2.95,1.81)(3.0,1.6)(2.88,1.46)(3.07,1.0)(2.83,1.0)(2.95,1.0)(3.16,1.0)}
\pts{cIF}{(3.86,3.03)(3.90,2.99)(4.14,2.8)(3.79,1.70)(4.0,1.63)(3.93,1.19)(4.05,1.19)(3.83,1.12)(3.8,1.0)(3.95,1.0)(4.09,1.0)(3.86,1.0)}
\pts{cES}{(5.09,3.18)(4.81,2.65)(4.95,2.65)(5.16,2.3)(4.88,2.18)(4.98,2.18)(4.81,2.14)(5.05,2.13)(5.03,1.33)(4.93,1.18)}
\pts{cIS}{(6.14,4.19)(5.86,3.73)(5.91,3.73)(6.10,3.28)(5.84,2.99)(6.16,2.81)(5.86,2.69)(6.10,2.63)(5.79,2.46)(5.81,2.28)(5.95,1.94)(5.84,1.67)(5.88,1.51)(5.93,1.48)(6.10,1.78)(5.90,1.0)}
\bra{5.92}{*}\brb{4.16}{ns}\brc{4.61}{ns}\brd{6.38}{**}\bre{6.69}{****}\brf{6.99}{ns}
}
\panel{788}{1705}{186pt}{Diaminopyrimidines}{0.74}{6.43}{2,4,6}{
\bx{cE}{1}{1.0}{1.0}{1.69}{2.51}{4.53}
\bx{cI}{2}{1.0}{1.71}{1.96}{2.48}{3.59}
\bx{cEF}{3}{1.0}{1.0}{1.0}{1.71}{2.28}
\bx{cIF}{4}{1}{1}{1}{1}{1}
\bx{cES}{5}{1.0}{1.75}{2.78}{2.96}{3.18}
\bx{cIS}{6}{1.46}{2.59}{3.57}{3.98}{4.7}
\pts{cE}{(0.91,4.5)(0.88,3.65)(0.98,3.19)(0.90,2.51)(1.0,2.52)(1.03,2.14)(0.83,2.0)(0.93,1.55)(1.0,1.55)(0.86,1.53)(1.09,1.32)(0.84,1.0)(0.98,1.0)(1.12,1.0)}
\pts{cI}{(1.95,4.84)(2.05,4.49)(1.95,3.59)(1.83,2.91)(1.95,2.54)(1.91,2.26)(2.12,2.24)(1.84,2.09)(1.98,1.81)(2.09,1.88)(2.03,1.72)(1.81,1.2)(2.12,1.15)(1.91,1.0)}
\pts{cEF}{(3.05,2.28)(2.83,2.0)(3.05,1.97)(2.88,1.81)(2.98,1.81)(3.05,1.39)(2.83,1.0)(2.91,1.0)(3.0,1.0)(3.12,1.0)}
\pts{cIF}{(3.86,2.0)(3.86,1.81)(3.86,1.26)(3.8,1.0)(3.9,1.0)(4.0,1.0)(4.17,1.0)}
\pts{cES}{(5.19,5.01)(5.02,3.17)(5.14,2.95)(4.8,2.78)(4.95,2.77)(4.95,2.57)(5.07,1.48)(5.03,1.3)(4.88,1.0)}
\pts{cIS}{(5.86,4.69)(6.10,4.35)(6.03,4.32)(5.98,4.08)(5.81,3.8)(5.91,3.8)(6.03,3.8)(6.17,3.86)(5.97,3.59)(6.12,3.26)(5.84,2.94)(6.14,2.67)(5.95,2.52)(5.90,2.0)(6.14,1.93)(5.98,1.6)(6.07,1.46)}
\bra{5.23}{ns}\brb{2.99}{ns}\brc{5.19}{ns}\brd{5.64}{****}\bre{5.91}{****}\brf{6.17}{****}
}
\panel{1112.5}{1705}{186pt}{Quinolones}{0.68}{7.62}{2,4,6}{
\bx{cE}{1}{1.0}{1.05}{1.49}{2.4}{4.0}
\bx{cI}{2}{1.0}{1.0}{1.33}{2.18}{3.84}
\bx{cEF}{3}{1}{1}{1}{1}{1}
\bx{cIF}{4}{1}{1}{1}{1}{1}
\bx{cES}{5}{1}{1}{1}{1}{1}
\bx{cIS}{6}{1}{1}{1}{1}{1}
\pts{cE}{(1.14,4.0)(1.16,3.07)(1.02,2.88)(0.86,2.38)(1.07,2.16)(1.02,1.83)(1.03,1.5)(1.10,1.3)(0.95,1.29)(1.17,1.18)(0.93,1.11)(0.83,1.0)(1.03,1.0)}
\pts{cI}{(2.14,4.0)(1.90,3.83)(1.84,2.38)(1.91,2.16)(1.84,2.0)(1.84,1.81)(1.98,1.47)(1.84,1.12)(1.97,1.0)(2.07,1.0)(1.84,1.0)}
\pts{cEF}{(3.03,3.3)(3.10,3.27)(2.86,1.0)(3.0,1.0)(3.14,1.0)(2.93,1.0)}
\pts{cIF}{(3.83,1.0)(3.95,1.0)(4.07,1.0)(4.17,1.0)}
\pts{cES}{(4.88,2.0)(4.83,1.0)(4.97,1.0)(5.09,1.0)}
\pts{cIS}{(6.10,2.6)(6.03,2.26)(5.98,1.8)(5.8,1.0)(5.9,1.0)(6.03,1.0)(6.19,1.0)}
\bra{6.16}{ns}\brb{3.53}{ns}\brc{3.2}{ns}\brd{6.68}{****}\bre{6.99}{ns}\brf{7.31}{****}
}
% ---------------- b) row 3
\panel{139}{2102}{186pt}{Glycopeptides}{0.898}{3.26}{1.0,1.5,2.0,2.5,3.0}{
\bx{cE}{1}{1}{1}{1}{1}{1}
\bx{cI}{2}{1}{1}{1}{1}{1}
\bx{cEF}{3}{1}{1}{1}{1}{1}
\bx{cIF}{4}{1}{1}{1}{1.95}{2.68}
\bx{cES}{5}{1}{1}{1}{1}{1}
\bx{cIS}{6}{1}{1}{1}{1.70}{2.58}
\pts{cE}{(1.14,1.81)(0.8,1.0)(0.91,1.0)(1.05,1.0)(1.19,1.0)}
\pts{cI}{(1.8,1.81)(1.8,1.0)(1.9,1.0)(2.02,1.0)(2.16,1.0)}
\pts{cEF}{(2.86,2.01)(3.09,2.01)(2.84,1.81)(2.95,1.81)(2.8,1.0)(2.86,1.0)(3.0,1.0)(3.16,1.0)}
\pts{cIF}{(3.91,2.68)(3.81,2.01)(3.91,2.01)(4.14,2.01)(3.8,1.93)(3.9,1.81)(3.8,1.0)(3.9,1.0)(4.03,1.0)(4.16,1.0)}
\pts{cES}{(4.8,1.0)(4.88,1.0)(5.03,1.0)(5.17,1.0)}
\pts{cIS}{(6.02,2.58)(5.97,2.01)(6.09,2.01)(6.05,1.86)(6.14,1.81)(6.0,1.59)(5.8,1.47)(6.05,1.47)(5.8,1.0)(5.9,1.0)(6.05,1.0)(6.19,1.0)}
\bra{2.05}{NS.}\brb{2.79}{ns}\brc{2.71}{*}\brd{2.95}{**}\bre{3.06}{ns}\brf{3.165}{*}
}
\panel{463.5}{2102}{186pt}{Sulfonamides}{0.905}{3.17}{1.0,1.5,2.0,2.5,3.0}{
\bx{cE}{1}{1.0}{1.04}{1.17}{1.74}{2.0}
\bx{cI}{2}{1.0}{1.12}{1.36}{1.77}{2.30}
\bx{cEF}{3}{1.0}{1.0}{1.0}{1.31}{1.69}
\bx{cIF}{4}{1}{1}{1}{1}{1}
\bx{cES}{5}{1.08}{1.22}{1.45}{1.79}{2.22}
\bx{cIS}{6}{1.0}{1.13}{1.19}{1.60}{1.85}
\pts{cE}{(0.86,2.0)(1.05,1.9)(1.10,1.86)(1.03,1.86)(0.81,1.79)(1.17,1.69)(1.0,1.67)(0.81,1.2)(0.98,1.2)(0.83,1.16)(0.90,1.1)(1.0,1.09)(0.86,1.07)(1.03,1.04)(0.8,1.0)(0.93,1.0)(1.07,1.0)}
\pts{cI}{(2.14,2.30)(1.86,1.96)(2.14,1.98)(2.14,1.90)(1.98,1.56)(2.09,1.56)(1.90,1.50)(1.84,1.35)(2.03,1.33)(1.83,1.29)(2.14,1.22)(1.93,1.17)(1.81,1.06)(1.91,1.05)(2.05,1.07)(2.0,1.01)(2.16,1.0)}
\pts{cEF}{(3.0,2.59)(3.09,2.6)(2.95,1.69)(2.91,1.52)(3.14,1.32)(3.03,1.28)(2.91,1.22)(2.8,1.0)(2.90,1.0)(3.03,1.0)(3.16,1.0)}
\pts{cIF}{(3.93,2.0)(4.07,2.0)(4.14,1.8)(3.98,1.32)(3.8,1.0)(3.88,1.0)(4.02,1.0)(4.17,1.0)}
\pts{cES}{(4.91,2.22)(5.16,2.01)(5.07,1.57)(5.17,1.32)(5.10,1.27)(5.02,1.22)(4.88,1.21)(4.98,1.08)}
\pts{cIS}{(5.79,1.83)(6.02,1.85)(5.98,1.73)(6.05,1.70)(5.79,1.27)(5.93,1.28)(5.83,1.16)(6.05,1.17)(6.2,1.17)(6.10,1.12)(5.84,1.12)(5.93,1.10)(5.97,1.08)(6.05,1.0)}
\bra{2.38}{ns}\brb{2.67}{ns}\brc{2.43}{ns}\brd{2.87}{****}\bre{2.98}{***}\brf{3.08}{ns}
}
\panel{788}{2102}{186pt}{Oxazolidinones}{0.904}{3.13}{1.0,1.5,2.0,2.5,3.0}{
\bx{cE}{1}{1.0}{1.0}{1.0}{1.88}{2.42}
\bx{cI}{2}{1.0}{1.03}{1.24}{2.07}{2.57}
\bx{cEF}{3}{1}{1}{1}{1}{1}
\bx{cIF}{4}{1}{1}{1}{1}{1}
\bx{cES}{5}{1.0}{1.01}{1.20}{1.33}{1.49}
\bx{cIS}{6}{1.0}{1.08}{1.12}{1.39}{1.60}
\pts{cE}{(0.86,2.41)(1.12,2.31)(0.86,2.0)(1.17,1.96)(0.86,1.80)(0.84,1.32)(0.81,1.0)(0.93,1.0)(1.07,1.0)(1.17,1.0)}
\pts{cI}{(2.16,2.57)(1.84,2.25)(2.14,2.18)(2.12,2.16)(2.07,2.0)(2.09,1.95)(1.90,1.29)(1.93,1.24)(1.86,1.21)(1.97,1.20)(2.12,1.12)(2.0,1.09)(2.14,1.06)(1.83,1.0)(1.98,1.0)(2.16,1.0)}
\pts{cEF}{(3.16,1.32)(2.95,1.10)(2.8,1.0)(2.91,1.0)(3.03,1.0)(3.17,1.0)}
\pts{cIF}{(4.05,1.92)(3.90,1.18)(4.14,1.13)(4.14,1.10)(3.83,1.0)(3.95,1.0)(4.07,1.0)(4.21,1.0)}
\pts{cES}{(4.91,1.92)(4.93,1.48)(4.95,1.34)(5.05,1.26)(5.14,1.21)(4.93,1.07)(4.81,1.0)(4.95,1.0)}
\pts{cIS}{(6.14,2.34)(6.07,2.0)(5.91,1.60)(5.91,1.45)(5.91,1.40)(6.16,1.36)(5.88,1.17)(6.02,1.16)(6.10,1.15)(5.83,1.12)(6.12,1.11)(5.98,1.11)(5.83,1.04)(5.98,1.04)(6.05,1.0)}
\bra{2.65}{ns}\brb{2.04}{ns}\brc{2.46}{ns}\brd{2.84}{***}\bre{2.95}{****}\brf{3.05}{ns}
}
\legendbox{1143}{2180}
\end{tikzpicture}
\end{document}
